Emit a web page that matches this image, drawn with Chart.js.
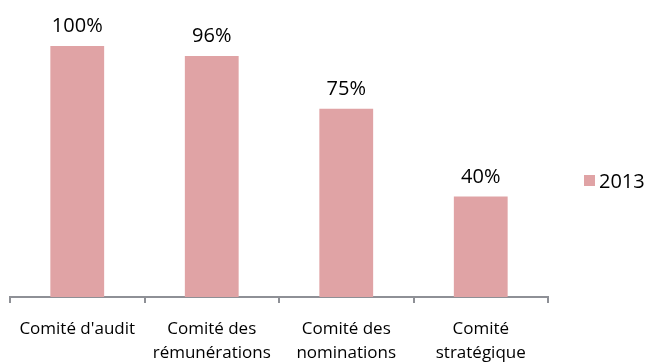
<!DOCTYPE html>
<html>
<head>
<meta charset="utf-8">
<script src="https://cdn.jsdelivr.net/npm/chart.js@4/dist/chart.umd.min.js"></script>
<style>
  html, body { margin: 0; padding: 0; background: #fff; }
  #wrap { width: 650px; height: 363px; }
</style>
</head>
<body>
<div id="wrap"><canvas id="chart"></canvas></div>
<script>
const categories = [
  "Comité d'audit",
  ["Comité des", "rémunérations"],
  ["Comité des", "nominations"],
  ["Comité", "stratégique"]
];
const seriesName = "2013";
const values = [100, 96, 75, 40];

const FONT = "'Open Sans', 'DejaVu Sans', sans-serif";
const BAR_COLOR = "#e0a3a5";

const valueLabels = {
  id: "valueLabels",
  afterDatasetsDraw(chart) {
    const ctx = chart.ctx;
    const meta = chart.getDatasetMeta(0);
    ctx.save();
    ctx.font = "20px " + FONT;
    ctx.fillStyle = "#000";
    ctx.textAlign = "center";
    ctx.textBaseline = "alphabetic";
    meta.data.forEach((bar, i) => {
      ctx.fillText(values[i] + "%", bar.x, bar.y - 14);
    });
    ctx.restore();
  }
};

// legend on the right, drawn by hand so the plot area keeps its width
const sideLegend = {
  id: "sideLegend",
  afterDraw(chart) {
    const ctx = chart.ctx;
    const x = chart.chartArea.right + 36;
    const y = 181;
    ctx.save();
    ctx.fillStyle = BAR_COLOR;
    ctx.fillRect(x, y - 6, 11, 11);
    ctx.fillStyle = "#000";
    ctx.font = "20px " + FONT;
    ctx.textBaseline = "middle";
    ctx.fillText(seriesName, x + 15, y + 1);
    ctx.restore();
  }
};

new Chart(document.getElementById("chart"), {
  type: "bar",
  data: {
    labels: categories,
    datasets: [{
      label: seriesName,
      data: values,
      backgroundColor: BAR_COLOR,
      borderWidth: 0,
      categoryPercentage: 0.4,
      barPercentage: 1
    }]
  },
  options: {
    responsive: true,
    maintainAspectRatio: false,
    animation: false,
    layout: { padding: { top: 46, left: 10, right: 102, bottom: 0 } },
    plugins: {
      legend: { display: false },
      tooltip: { enabled: false }
    },
    scales: {
      x: {
        grid: {
          drawOnChartArea: false,
          drawTicks: true,
          tickLength: 6,
          color: "#8e9096",
          lineWidth: 2
        },
        border: { color: "#8e9096", width: 2 },
        ticks: {
          color: "#000",
          padding: 14,
          maxRotation: 0,
          autoSkip: false,
          font: { family: FONT, size: 17, lineHeight: 1.41 }
        },
        afterFit(scale) { scale.height = 66; }
      },
      y: {
        display: false,
        min: 0,
        max: 100
      }
    }
  },
  plugins: [valueLabels, sideLegend]
});
</script>
</body>
</html>
